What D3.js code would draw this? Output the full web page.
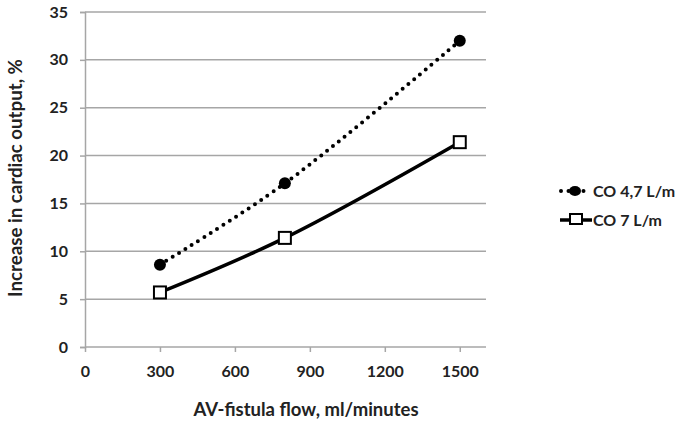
<!DOCTYPE html>
<html><head><meta charset="utf-8">
<script src="https://cdn.jsdelivr.net/npm/d3@7"></script>
<style>body{margin:0;background:#fff}svg{display:block}text{font-family:Lato,"Open Sans",sans-serif;font-weight:bold;fill:#222}</style>
</head><body><svg id="c" width="680" height="421"></svg>
<script>
const flow = [300, 800, 1500];
const co47 = [8.6, 17.1, 32.0];
const co7 = [5.7, 11.4, 21.4];
const xTicks = [0, 300, 600, 900, 1200, 1500];
const yTicks = [0, 5, 10, 15, 20, 25, 30, 35];
const seriesNames = ["CO 4,7 L/m", "CO 7 L/m"];

const svg = d3.select("#c");
const x = d3.scaleLinear().domain([0, 1605]).range([85, 486]);
const y = d3.scaleLinear().domain([0, 35]).range([347, 12]);

// gridlines
svg.append("g").selectAll("line").data(yTicks.filter(d=>d>0)).join("line")
  .attr("x1", x(0)).attr("x2", x(1605)).attr("y1", d=>y(d)).attr("y2", d=>y(d))
  .attr("stroke", "#a6a6a6").attr("stroke-width", 1.5);

const yAx = svg.append("g").attr("transform", `translate(${x(0)},0)`)
  .call(d3.axisLeft(y).tickValues(yTicks).tickSize(5).tickPadding(12));
const xAx = svg.append("g").attr("transform", `translate(0,${y(0)})`)
  .call(d3.axisBottom(x).tickValues(xTicks).tickFormat(d3.format("d")).tickSize(5).tickPadding(14));
[yAx, xAx].forEach(a => {
  a.select(".domain").attr("stroke", "#a6a6a6").attr("stroke-width", 1.5);
  a.selectAll(".tick line").attr("stroke", "#a6a6a6").attr("stroke-width", 1.5);
  a.selectAll("text").style("font-size", "16px").attr("fill", "#222");
});
xAx.select(".domain").attr("d", `M${x(0)},0H${x(1605)}`);

const line = d3.line().curve(d3.curveCatmullRom.alpha(0.5)).x((d,i)=>x(flow[i])).y(d=>y(d));

svg.append("path").datum(co47).attr("d", line).attr("fill", "none")
  .attr("stroke", "#000").attr("stroke-width", 4).attr("stroke-linecap", "round")
  .attr("stroke-dasharray", "0 7.5");
svg.append("path").datum(co7).attr("d", line).attr("fill", "none")
  .attr("stroke", "#000").attr("stroke-width", 3.5);

svg.append("g").selectAll("circle").data(co47).join("circle")
  .attr("cx", (d,i)=>x(flow[i])).attr("cy", d=>y(d)).attr("r", 6).attr("fill", "#000");
svg.append("g").selectAll("rect").data(co7).join("rect")
  .attr("x", (d,i)=>x(flow[i])-6).attr("y", d=>y(d)-6).attr("width", 12).attr("height", 12)
  .attr("fill", "#fff").attr("stroke", "#000").attr("stroke-width", 2);

// axis titles
svg.append("text").attr("x", 306).attr("y", 416).attr("text-anchor", "middle")
  .style("font-size", "18.5px").text("AV-fistula flow, ml/minutes");
svg.append("text").attr("transform", "translate(22,178) rotate(-90)").attr("text-anchor", "middle")
  .style("font-size", "18.7px").text("Increase in cardiac output, %");

// legend
const lg = svg.append("g");
const ly = [191, 220];
lg.append("line").attr("x1", 561).attr("x2", 591).attr("y1", ly[0]).attr("y2", ly[0])
  .attr("stroke", "#000").attr("stroke-width", 4).attr("stroke-linecap", "round").attr("stroke-dasharray", "0 7.5");
lg.append("ellipse").attr("cx", 575).attr("cy", ly[0]).attr("rx", 6).attr("ry", 5).attr("fill", "#000");
lg.append("line").attr("x1", 560).attr("x2", 592).attr("y1", ly[1]).attr("y2", ly[1])
  .attr("stroke", "#000").attr("stroke-width", 3.5);
lg.append("rect").attr("x", 570).attr("y", ly[1]-6).attr("width", 12).attr("height", 10)
  .attr("fill", "#fff").attr("stroke", "#000").attr("stroke-width", 2);
lg.selectAll("text.l").data(seriesNames).join("text")
  .attr("x", 593).attr("y", (d,i)=>ly[i]+6).style("font-size", "16px").text(d=>d);
</script></body></html>
